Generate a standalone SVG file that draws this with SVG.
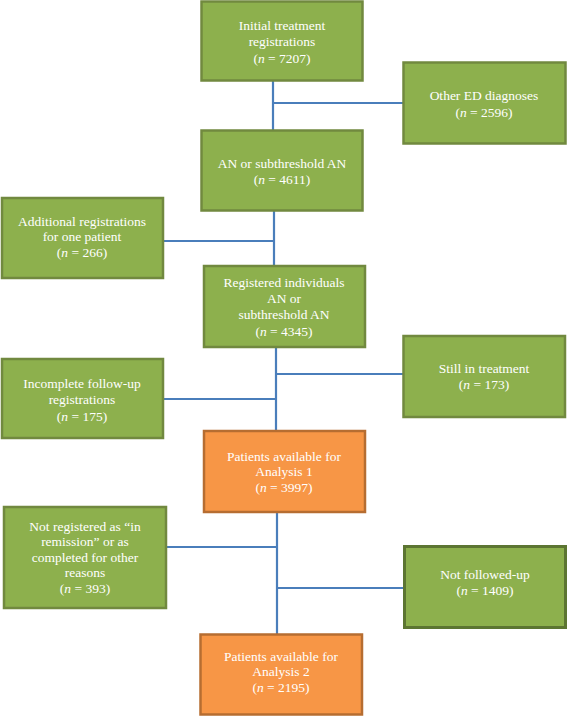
<svg xmlns="http://www.w3.org/2000/svg" width="567" height="716" viewBox="0 0 567 716">
<style>
.g{fill:#8DB04D;stroke:#71893F;stroke-width:2.5}
.g2{fill:#8DB04D;stroke:#5C7532;stroke-width:3}
.o{fill:#F79646;stroke:#B66D31;stroke-width:2.5}
text{font-family:"Liberation Serif","Times New Roman",serif;font-size:13.5px;fill:#FFFFFF;text-anchor:middle}
.c{fill:none;stroke:#4A7EBB;stroke-width:2.2}
</style>
<rect width="567" height="716" fill="#FFFFFF"/>
<g id="connectors">
<path class="c" d="M273,81 V130 M273,103 H403"/>
<path class="c" d="M274,211 V266 M163,241 H274"/>
<path class="c" d="M276,347 V431 M276,374 H403 M163,399 H276"/>
<path class="c" d="M277,512 V634 M166,547 H277 M277,588 H404"/>
</g>
<g id="initial">
<rect class="g" x="201.5" y="1.5" width="161" height="79"/>
<text x="282" y="30">Initial treatment</text>
<text x="282" y="46">registrations</text>
<text x="282" y="63">(<tspan font-style="italic">n</tspan> = 7207)</text>
</g>
<g id="other-ed">
<rect class="g" x="403.5" y="62.5" width="162" height="81"/>
<text x="484" y="100">Other ED diagnoses</text>
<text x="484" y="117">(<tspan font-style="italic">n</tspan> = 2596)</text>
</g>
<g id="an">
<rect class="g" x="201.5" y="130.5" width="161" height="80"/>
<text x="282" y="168">AN or subthreshold AN</text>
<text x="282" y="184">(<tspan font-style="italic">n</tspan> = 4611)</text>
</g>
<g id="additional">
<rect class="g" x="2" y="198" width="161" height="80"/>
<text x="82" y="226">Additional registrations</text>
<text x="82" y="241">for one patient</text>
<text x="82" y="257">(<tspan font-style="italic">n</tspan> = 266)</text>
</g>
<g id="registered">
<rect class="g" x="204" y="266" width="161" height="81"/>
<text x="284" y="287">Registered individuals</text>
<text x="284" y="303">AN or</text>
<text x="284" y="319">subthreshold AN</text>
<text x="284" y="336">(<tspan font-style="italic">n</tspan> = 4345)</text>
</g>
<g id="still">
<rect class="g" x="403.5" y="336" width="161.5" height="81"/>
<text x="484" y="373">Still in treatment</text>
<text x="484" y="389">(<tspan font-style="italic">n</tspan> = 173)</text>
</g>
<g id="incomplete">
<rect class="g" x="2" y="359" width="161" height="79"/>
<text x="82" y="388">Incomplete follow-up</text>
<text x="82" y="404">registrations</text>
<text x="82" y="421">(<tspan font-style="italic">n</tspan> = 175)</text>
</g>
<g id="analysis1">
<rect class="o" x="204" y="431" width="161" height="81"/>
<text x="284" y="461">Patients available for</text>
<text x="284" y="476">Analysis 1</text>
<text x="284" y="492">(<tspan font-style="italic">n</tspan> = 3997)</text>
</g>
<g id="not-registered">
<rect class="g" x="4" y="507" width="162" height="101"/>
<text x="85" y="531">Not registered as “in</text>
<text x="85" y="546">remission” or as</text>
<text x="85" y="562">completed for other</text>
<text x="85" y="577">reasons</text>
<text x="85" y="593">(<tspan font-style="italic">n</tspan> = 393)</text>
</g>
<g id="not-followed">
<rect class="g2" x="404.5" y="546.5" width="161" height="81"/>
<text x="485" y="579">Not followed-up</text>
<text x="485" y="595">(<tspan font-style="italic">n</tspan> = 1409)</text>
</g>
<g id="analysis2">
<rect class="o" x="200.5" y="634.5" width="161.5" height="80"/>
<text x="281" y="661">Patients available for</text>
<text x="281" y="676">Analysis 2</text>
<text x="281" y="692">(<tspan font-style="italic">n</tspan> = 2195)</text>
</g>
</svg>
